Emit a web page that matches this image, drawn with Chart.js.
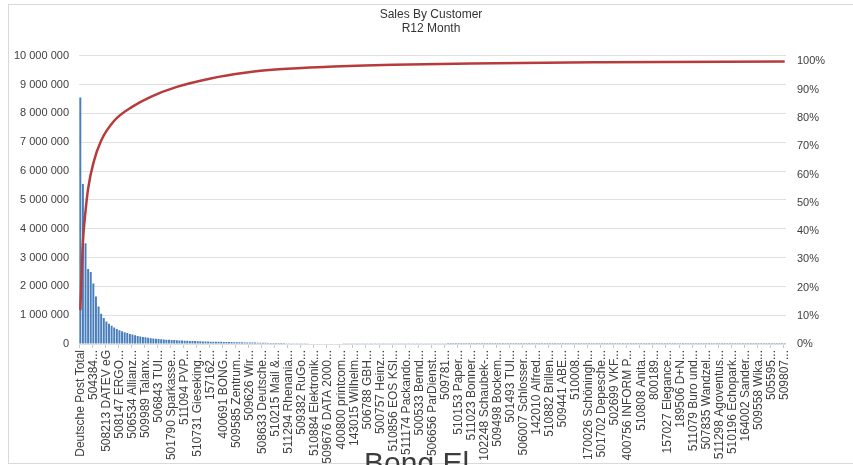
<!DOCTYPE html>
<html>
<head>
<meta charset="utf-8">
<script src="https://cdn.jsdelivr.net/npm/chart.js@4/dist/chart.umd.min.js"></script>
<style>
  html, body { margin: 0; padding: 0; background: #fff; overflow: hidden; }
  #frame { position: absolute; left: 8px; top: 4px; width: 844px; height: 458px; border: 1px solid #d9d9d9; }
  #caption { position: absolute; left: 364px; top: 448px; font: 30px "Liberation Sans", Arial, sans-serif; line-height: 1; color: #3c3c3c; }
</style>
</head>
<body>
<div id="frame"><canvas id="mycanvas" width="844" height="458"></canvas></div>
<div id="caption">Bong El</div>
<script>
// customer names shown on the axis (every 5th customer)
var customers = [
  'Deutsche Post Total', '504384...', '508213 DATEV eG', '508147 ERGO...', '506534 Allianz...',
  '509989 Talanx...', '506843 TUI...', '501790 Sparkasse...', '511094 PVP...', '510731 Gieseking...',
  '157162...', '400691 BONG...', '509585 Zentrum...', '509626 Wir...', '508633 Deutsche...',
  '510215 Mail &...', '511294 Rhenania...', '509382 RuGo...', '510884 Elektronik...', '509676 DATA 2000...',
  '400800 printcom...', '143015 Wilhelm...', '506788 GBH...', '500757 Heinz...', '510856 EOS KSI...',
  '511174 Packando...', '500533 Bernd...', '506656 ParDienst...', '509781...', '510153 Paper...',
  '511023 Bonner...', '102248 Schaubek-...', '509498 Bockem...', '501493 TUI...', '506007 Schlosser...',
  '142010 Alfred...', '510882 Brillen...', '509441 ABE...', '510008...', '170026 Schöningh...',
  '501702 Depesche...', '502699 VKF...', '400756 INFORM P...', '510808 Anita...', '800189...',
  '157027 Elegance...', '189506 D+N...', '511079 Buro und...', '507835 Wandzel...', '511298 Agoventus...',
  '510196 Echopark...', '164002 Sander...', '509558 Wika...', '505595...', '509807...'
];
var labelEvery = 5;

// sales per customer, in thousands
var salesK = [
  8550, 5550, 3500, 2600, 2500, 2100, 1650, 1300, 1050, 900,
  780, 700, 630, 570, 520, 480, 440, 410, 380, 350,
  330, 300, 280, 260, 245, 230, 215, 200, 190, 180,
  170, 165, 160, 150, 145, 140, 135, 130, 125, 120,
  116, 112, 108, 104, 100, 97, 94, 91, 88, 85,
  82, 80, 78, 76, 74, 72, 70, 68, 66, 64,
  62, 60, 58, 56, 54, 52, 50, 48, 46, 44,
  42, 40, 38, 36, 35, 34, 33, 32, 31, 30,
  29, 28, 27, 26, 25, 24, 23, 22, 21, 20,
  19, 18, 18, 17, 17, 16, 16, 15, 15, 14,
  14, 13, 13, 12, 12, 12, 11, 11, 11, 10, 10, 10, 9, 9, 9, 9, 8, 8, 8, 8,
  8, 7, 7, 7, 7, 7, 6, 6, 6, 6, 6, 6, 5, 5, 5, 5, 5, 5, 5, 5,
  5, 4, 4, 4, 4, 4, 4, 4, 4, 4, 4, 4, 3, 3, 3, 3, 3, 3, 3, 3,
  3, 3, 3, 3, 3, 3, 3, 3, 3, 3, 2, 2, 2, 2, 2, 2, 2, 2, 2, 2,
  2, 2, 2, 2, 2, 2, 2, 2, 2, 2, 2, 2, 2, 2, 2, 2, 2, 2, 2, 2,
  2, 2, 2, 2, 2, 1, 1, 1, 1, 1, 1, 1, 1, 1, 1, 1, 1, 1, 1, 1,
  1, 1, 1, 1, 1, 1, 1, 1, 1, 1, 1, 1, 1, 1, 1, 1, 1, 1, 1, 1,
  1, 1, 1, 1, 1, 1, 1, 1, 1, 1, 1, 1, 1, 1, 1, 1, 1, 1, 1, 1,
  1, 1, 1, 1, 1, 1, 1, 1, 1, 1, 1
];

// cumulative % at these customer positions
var cumIdx = [0, 1, 2, 3, 5, 8, 13, 20, 27, 37, 50, 63, 76, 95, 120, 150, 200, 270];
var cumPct = [12, 36, 47, 55, 64, 72, 79, 84, 87.5, 91, 94, 96, 97.2, 98.1, 98.8, 99.3, 99.7, 100];

var leftTicks = [0, 1000000, 2000000, 3000000, 4000000, 5000000, 6000000, 7000000, 8000000, 9000000, 10000000];

var labels = [];
var sales = [];
var cum = [];
for (var i = 0; i < salesK.length; i++) {
  labels.push(i % labelEvery == 0 ? customers[i / labelEvery] : '');
  sales.push(salesK[i] * 1000);
  cum.push(null);
}
for (var j = 0; j < cumIdx.length; j++) {
  cum[cumIdx[j]] = cumPct[j];
}

function spaced(v) {
  return String(v).replace(/\B(?=(\d{3})+(?!\d))/g, ' ');
}

var fam = '"Liberation Sans", Arial, sans-serif';
var font = { family: fam, size: 11 };
var ctx = document.getElementById('mycanvas');

var mycanvas = new Chart(ctx, {
  type: 'bar',
  data: {
    labels: labels,
    datasets: [{
      type: 'line',
      label: 'Cumulative %',
      data: cum,
      yAxisID: 'y1',
      borderColor: '#b83b3b',
      borderWidth: 2.5,
      pointRadius: 0,
      spanGaps: true,
      cubicInterpolationMode: 'monotone',
      order: 0
    }, {
      label: 'Sales',
      data: sales,
      yAxisID: 'y',
      backgroundColor: '#4a7ebb',
      barPercentage: 0.75,
      categoryPercentage: 1,
      order: 1
    }]
  },
  options: {
    responsive: false,
    animation: false,
    events: [],
    layout: { padding: 0 },
    plugins: {
      legend: { display: false },
      tooltip: { enabled: false },
      title: {
        display: true,
        text: ['Sales By Customer', 'R12 Month'],
        color: '#333',
        font: { family: fam, size: 12, weight: 'normal', lineHeight: 1.2 },
        padding: { top: 2, bottom: 20 }
      }
    },
    scales: {
      x: {
        grid: {
          display: true,
          drawOnChartArea: false,
          tickLength: 4,
          color: function(c) { return c.index % labelEvery == 0 ? '#c8c8c8' : 'rgba(0,0,0,0)'; }
        },
        border: { display: false },
        ticks: {
          autoSkip: false,
          minRotation: 90,
          maxRotation: 90,
          padding: 2,
          color: '#404040',
          font: { family: fam, size: 12 }
        },
        afterFit: function(s) { s.height = 119; }
      },
      y: {
        position: 'left',
        min: 0,
        max: 10000000,
        afterBuildTicks: function(s) { s.ticks = leftTicks.map(function(v) { return { value: v }; }); },
        grid: { color: '#e0e0e0', drawTicks: false },
        border: { display: false },
        ticks: {
          padding: 10,
          color: '#404040',
          font: font,
          callback: function(v) { return spaced(v); }
        },
        afterFit: function(s) { s.width = 70; }
      },
      y1: {
        position: 'right',
        min: 0,
        max: 102,
        grid: { display: false },
        border: { display: false },
        ticks: {
          stepSize: 10,
          includeBounds: false,
          padding: 3,
          color: '#404040',
          font: font,
          callback: function(v) { return v + '%'; }
        },
        afterFit: function(s) { s.width = 67; }
      }
    }
  }
});
</script>
</body>
</html>
